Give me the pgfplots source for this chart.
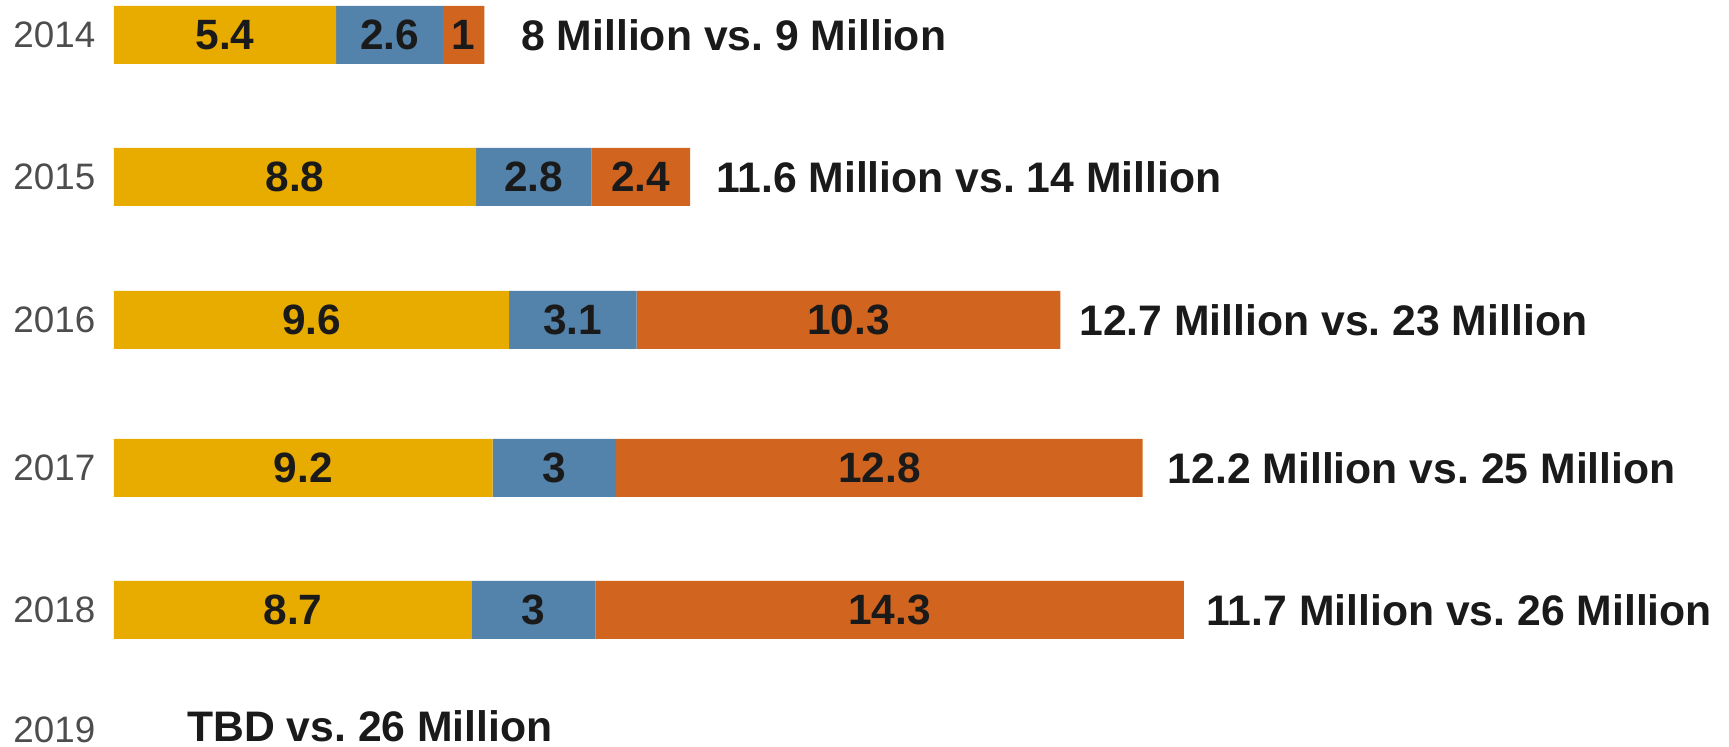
\documentclass[border=0pt]{standalone}
\usepackage{fontspec}
\setmainfont{Liberation Sans}
\usepackage{pgfplots}
\pgfplotsset{compat=1.18}
\usepackage{pgfplotstable}
\frenchspacing
\definecolor{cgold}{HTML}{E8AB00}
\definecolor{cblue}{HTML}{5382AA}
\definecolor{corange}{HTML}{D1651F}
\definecolor{ctext}{HTML}{1A1A1A}
\definecolor{cyear}{HTML}{4D4D4D}
\pgfplotstableread{
year y a b c
2014 35 5.4 2.6 1
2015 177 8.8 2.8 2.4
2016 320 9.6 3.1 10.3
2017 468 9.2 3 12.8
2018 610 8.7 3 14.3
}\data
\pgfplotsset{
  base/.style={
    scale only axis, width=864.5pt, height=373.5pt,
    xmin=-2.770, xmax=39.247, ymin=0, ymax=747, y dir=reverse,
    axis line style={draw=none}, tick style={draw=none},
    major tick length=0pt, xtick=\empty, clip=false,
  },
  seg/.style={draw=none, fill=#1, nodes near coords, point meta=explicit symbolic,
    every node near coord/.style={anchor=center,
      inner sep=0pt, font=\fontsize{21.2}{24}\selectfont\bfseries, text=ctext}},
}
\begin{document}
\begin{tikzpicture}
\begin{axis}[base, xbar stacked, bar width=58,
  ytick={35,177,320,468,610,730},
  yticklabels={2014,2015,2016,2017,2018,2019},
  yticklabel style={anchor=west, xshift=6.5pt, inner sep=0pt,
    font=\fontsize{18.4}{21}\selectfont, text=cyear},
]
\addplot[seg=cgold] table[x=a, y=y, meta=a]{\data};
\addplot[seg=cblue] table[x=b, y=y, meta=b]{\data};
\addplot[seg=corange] table[x=c, y=y, meta=c]{\data};
\end{axis}
\begin{axis}[base, ytick=\empty]
\addplot[draw=none, mark=none, nodes near coords, point meta=explicit symbolic,
  every node near coord/.style={anchor=west, inner sep=0pt,
    font=\fontsize{21.35}{24}\selectfont\bfseries\frenchspacing, text=ctext}]
coordinates {
(9.89,35) [8 Million vs.\ 9 Million]
(14.62,177) [11.6 Million vs.\ 14 Million]
(23.45,320) [12.7 Million vs.\ 23 Million]
(25.6,468) [12.2 Million vs.\ 25 Million]
(26.54,610) [11.7 Million vs.\ 26 Million]
(1.77,726) [TBD vs.\ 26 Million]
};
\end{axis}
\end{tikzpicture}
\end{document}
